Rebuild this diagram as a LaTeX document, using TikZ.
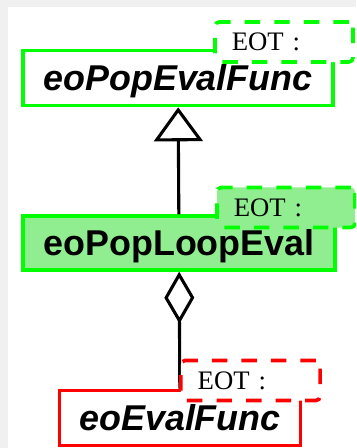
\documentclass[tikz,border=0pt]{standalone}
\usepackage{fontspec}
\setmainfont{Liberation Serif}
\setsansfont{Liberation Sans}
\usetikzlibrary{arrows.meta}
\definecolor{umlgreen}{HTML}{00FF00}
\definecolor{umlfill}{HTML}{90EE90}
\definecolor{umlred}{HTML}{FF0000}

\begin{document}
\begin{tikzpicture}[x=0.025cm, y=-0.025cm,
    cls/.style={draw, line width=2.4pt, minimum height=1.38cm, inner sep=0pt,
      text height=18.3pt, text depth=0pt,
      font=\sffamily\bfseries\fontsize{25.5}{30}\selectfont},
    tmpl/.style={draw, dashed, dash pattern=on 11pt off 10pt, line width=2.6pt,
      rounded corners=3pt, minimum height=1cm, inner xsep=0.42cm, text width=2.61cm,
      align=left, fill=white, font=\rmfamily\fontsize{19}{22}\selectfont},
    isa/.style={line width=2.2pt, -{Triangle[fill=white, length=0.85cm, width=1.22cm]}},
    hasa/.style={line width=2.2pt, {Diamond[fill=white, length=1.3cm, width=0.75cm]}-}]
  \clip (0,0) rectangle (356,448);
  \fill[black!6] (0,0) rectangle (356,448);
  \fill[white] (8,7) rectangle (356,448);
  % classes
  \node[cls, draw=umlgreen, minimum width=7.75cm] (popevalfunc) at (178,78) {\itshape eoPopEvalFunc};
  \node[cls, draw=umlgreen, fill=umlfill, minimum width=7.8cm, minimum height=1.35cm] (poploopeval) at (179,243) {eoPopLoopEval};
  \node[cls, draw=umlred, minimum width=6.03cm] (evalfunc) at (180,418) {\itshape eoEvalFunc};
  \draw[isa] (poploopeval) -- (popevalfunc);
  \draw[hasa] (poploopeval) -- (evalfunc);
  % template parameters
  \node[tmpl, draw=umlgreen] (eotpopevalfunc) at (284,42) {EOT :};
  \node[tmpl, draw=umlgreen, fill=umlfill] (eotpoploopeval) at (286,207.5) {EOT :};
  \node[tmpl, draw=umlred, text width=2.64cm] (eotevalfunc) at (250.5,380.5) {EOT :};
\end{tikzpicture}
\end{document}
